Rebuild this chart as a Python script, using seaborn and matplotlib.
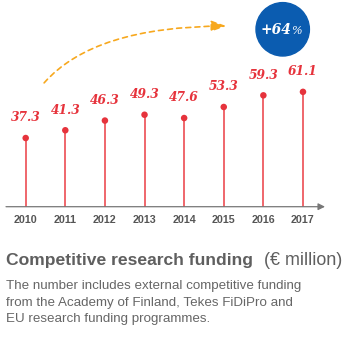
import numpy as np
import matplotlib
matplotlib.use("Agg")
import matplotlib.pyplot as plt
import seaborn as sns
from matplotlib.patches import FancyArrowPatch, Ellipse

# data
years = [2010, 2011, 2012, 2013, 2014, 2015, 2016, 2017]
funding = [37.3, 41.3, 46.3, 49.3, 47.6, 53.3, 59.3, 61.1]
growth = "+64"
title_bold = "Competitive research funding"
title_unit = "(€ million)"
note_lines = ["The number includes external competitive funding",
              "from the Academy of Finland, Tekes FiDiPro and",
              "EU research funding programmes."]

sns.set_theme(style="white")
plt.rcParams['font.family'] = ['Liberation Sans', 'DejaVu Sans']

RED = '#e6333c'
STEM = '#ee5a60'
GREY = '#5f5f5f'
W, H = 351, 355

fig = plt.figure(figsize=(W / 100, H / 100), dpi=100)
fig.patch.set_facecolor('white')

# axes placed in pixels: baseline at y=206.7 from top
base = 206.7
ax = fig.add_axes([6 / W, (H - base) / H, 319 / W, base / H])
ax.set_facecolor('none')
y0 = 1.9
ax.set_xlim(2009.503, 2017.556)
ax.set_ylim(y0, y0 + base / 1.94)

# stems + dots
ax.vlines(years, y0, funding, color=STEM, lw=1.3, zorder=1)
sns.scatterplot(x=years, y=funding, ax=ax, color=RED, s=22, edgecolor='none', zorder=2)

for x, v in zip(years, funding):
    ax.annotate(f"{v:.1f}", (x, v), xytext=(0, 14.5), textcoords='offset points',
                ha='center', va='center', color=RED, fontsize=8.8,
                family='DejaVu Serif', fontweight='bold', fontstyle='italic')

sns.despine(ax=ax, left=True, bottom=True)
ax.grid(False)
ax.set_yticks([])
ax.set_xticks(years, [str(y) for y in years])
ax.tick_params(axis='x', length=0, pad=6, labelsize=7.7, labelcolor='#555555')
for t in ax.get_xticklabels():
    t.set_fontweight('bold')

# x axis line with small arrow
ax.annotate('', xy=(1, 0), xytext=(0, 0), xycoords='axes fraction',
            arrowprops=dict(arrowstyle='-|>,head_length=0.5,head_width=0.25', color='#777777',
                            lw=0.9, mutation_scale=8, shrinkA=0, shrinkB=0))


def px(x, y):
    return (x / W, 1 - y / H)


# dashed growth arrow
arr = FancyArrowPatch(px(42.3, 85), px(229, 26), transform=fig.transFigure,
                      connectionstyle="angle3,angleA=50,angleB=0",
                      arrowstyle='-|>,head_length=0.6,head_width=0.22', mutation_scale=15,
                      color='#f7a81e', lw=1.2, linestyle=(0, (3, 2.5)))
fig.add_artist(arr)

# blue circle badge
fig.add_artist(Ellipse(px(282.7, 29.3), 53.4 / W, 53.4 / H, transform=fig.transFigure,
                       color='#0b5cb0', zorder=5))
fig.text(*px(291, 30), growth, ha='right', va='center', color='white', fontsize=10,
         family='DejaVu Serif', fontweight='bold', fontstyle='italic', zorder=6)
fig.text(*px(291.5, 31), "%", ha='left', va='center', color='white', fontsize=8,
         family='DejaVu Serif', fontstyle='italic', zorder=6)

# title and note
t1 = fig.text(*px(6, 260.3), title_bold, ha='left', va='center', color=GREY,
              fontsize=12.6, fontweight='bold')
fig.canvas.draw()
bb = t1.get_window_extent(fig.canvas.get_renderer())
fig.text(342.5 / W, px(0, 260.3)[1], title_unit, ha='right', va='center',
         color=GREY, fontsize=12.9)
for i, line in enumerate(note_lines):
    fig.text(*px(6, 286 + 16.7 * i), line, ha='left', va='center', color='#666666', fontsize=9.6)

fig.savefig('out.png', dpi=100)
